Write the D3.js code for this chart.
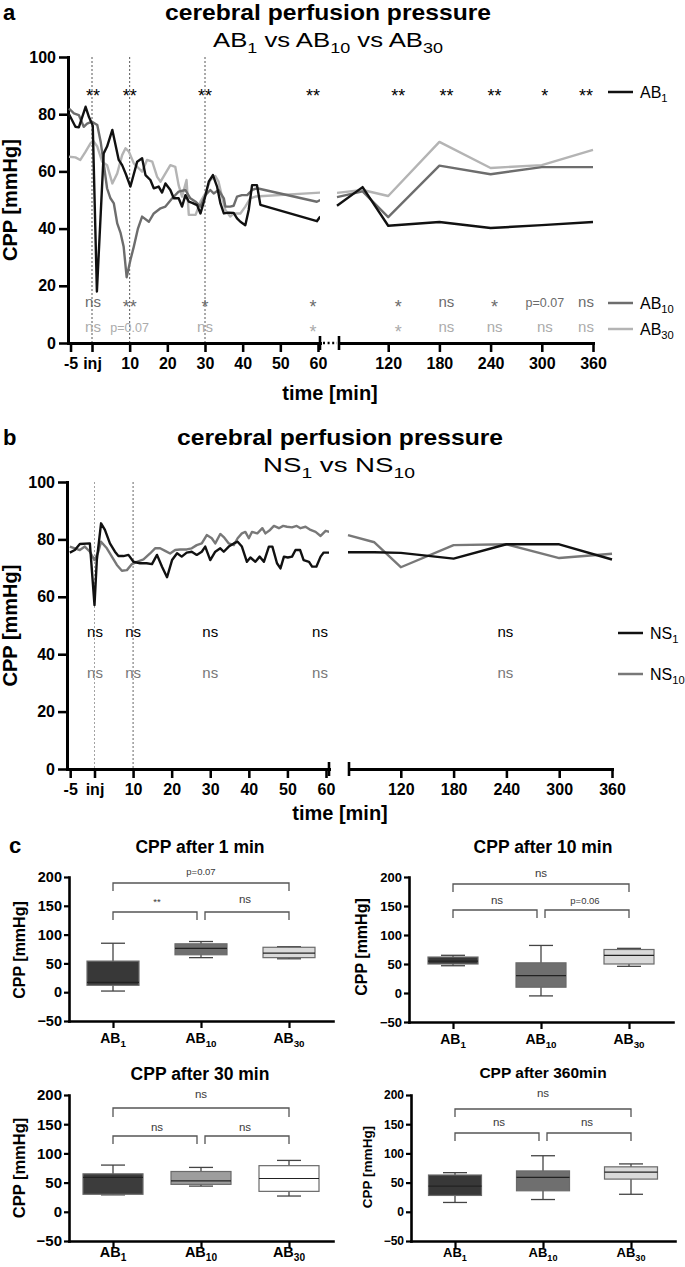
<!DOCTYPE html>
<html>
<head>
<meta charset="utf-8">
<script src="https://cdn.jsdelivr.net/npm/d3@7/dist/d3.min.js"></script>
<style>
html,body{margin:0;padding:0;background:#fff;}
svg{display:block;}
</style>
</head>
<body>
<svg id="fig" width="685" height="1267" viewBox="0 0 685 1267"></svg>
<script>
// ================= DATA =================
// Panel a: CPP [mmHg] over time [min] — left segment (-5..60 min), [time, value]
const ab1Left = [[-6.1,80],[-4.4,75.6],[-3.5,75.4],[-1.7,82.6],[-0.8,79],[0.2,76],[1.3,18],[3.1,66.3],[4,68.7],[5.4,74.5],[7.1,64],[8,62.2],[9,59],[10.2,54.7],[12,63.4],[13.3,64.6],[14.2,58.7],[15.5,57],[16.4,54.1],[17.7,54.7],[18.6,52.6],[19.5,55.8],[20.8,53.5],[21.7,50.6],[23,50.6],[23.9,47.7],[24.8,51.7],[25.7,49.4],[26.6,49],[27.9,48.2],[28.8,45.3],[29.7,49.4],[31,56.4],[32.1,58.7],[33.2,54.7],[34.1,48.8],[35,45.3],[36.3,45.6],[37.6,45.5],[38.5,43.6],[39.4,42.4],[40.7,41.2],[41.6,46.5],[42.5,55.2],[43.8,55.2],[44.7,48.3],[59.7,42.6],[60.6,44.2]];
const ab10Left = [[-6.1,82],[-4.8,80.3],[-3.5,79.7],[-2.2,75.6],[-1.3,76.7],[0,77.4],[1.4,76.2],[2.3,70.4],[3.1,62.8],[4,54.1],[4.9,50.6],[5.8,48.8],[6.7,41.8],[7.6,38.4],[8.4,33.7],[9.2,23],[10.2,29],[11.1,33.7],[12.2,40],[13.3,44.2],[15.1,42.4],[16.4,45.3],[18.2,47.1],[19.5,47.7],[21.3,50.6],[23,52.9],[24.8,53.5],[26.1,50.6],[27.5,49.4],[28.8,47.7],[30.1,51.7],[31.4,53.5],[32.3,52.3],[33.6,53.5],[35,50.6],[35.4,47.7],[36.7,47.7],[37.6,48],[38.5,51.2],[39.8,51.7],[41.2,51.7],[42.5,53.5],[43.8,54.1],[59.7,49.4],[60.6,50]];
const ab30Left = [[-6.1,65.1],[-4.4,64.9],[-3.1,64],[-1.7,66.9],[-0.4,69.8],[0.3,70.7],[1.4,68.7],[2.7,63.4],[4,62.2],[5.4,55.8],[6.7,59.3],[8,65.7],[8.9,68.1],[9.8,66.9],[11.1,62.8],[12.4,61.1],[13.3,59.9],[14.6,64],[16,63.4],[17.3,58.1],[18.2,56.4],[19.5,59.3],[20.8,62.2],[22.1,61.6],[23,55.2],[23.9,51.2],[25.1,57],[25.7,44.8],[27.5,44.8],[28.8,49.4],[30.1,52.3],[31.4,57],[32.7,58.4],[33.6,56.4],[34.5,51.2],[35.4,46.5],[36.7,44.2],[37.6,45.3],[39.4,45.3],[40.7,47.7],[42,50.6],[43.4,51.2],[60.6,52.6]];
// Panel a right segment (60..360 min)
const abRightTime = [60, 90, 120, 180, 240, 300, 360];
const ab1Right  = [48, 54.5, 41, 42.3, 40.2, 41.2, 42.3];
const ab10Right = [51, 53, 44, 62, 59, 61.5, 61.5];
const ab30Right = [52.5, 53.5, 51.4, 70.3, 61.2, 62.2, 67.5];

// Panel a ticks
const aYTicks = [0, 20, 40, 60, 80, 100];
const aXTickPos = [-5.7, 0, 10, 20, 30, 40, 50, 60];
const aXTickLab = ["-5", "inj", "10", "20", "30", "40", "50", "60"];
const aXTickRight = [120, 180, 240, 300, 360];
const aMarkTimes = [0, 10, 30];
// Panel a significance (columns at times)
const aSigTimes = [0, 10, 30, 60, 120, 180, 240, 300, 360];
const aSigAB1  = ["**","**","**","**","**","**","**","*","**"];
const aSigAB10 = ["ns","**","*","*","*","ns","*","p=0.07","ns"];
const aSigAB30 = ["ns","p=0.07","ns","*","*","ns","ns","ns","ns"];
const aLegend = ["AB_{1}", "AB_{10}", "AB_{30}"];

// Panel b
const ns1Left = [[-6.4,75.4],[-5.1,76.3],[-3.8,78.4],[-1.2,78.6],[0,57.1],[0.6,72.8],[1.7,85.6],[2.7,83.3],[4,78.6],[5.3,75.7],[6.2,74.2],[7.5,74.2],[8.8,74.6],[10.1,72.2],[11.8,71.7],[13.5,71.7],[14.9,71.4],[16.2,74.6],[17.5,70.5],[18.8,66.8],[20.1,72.8],[21.4,75.2],[22.6,74],[23.9,75.4],[25.2,75.7],[26.5,74.6],[27.8,75.7],[28.7,77.5],[30,72.8],[31.3,75.7],[32.6,76.9],[33.5,75.7],[34.8,77.5],[36.1,78.6],[37.1,79.2],[38.2,77.5],[39.5,72.2],[40.4,73.7],[41.7,72.2],[42.8,74],[43.9,72.2],[45.2,77.5],[46.1,77.5],[47.3,71.7],[48.2,69.9],[49.1,74],[50.1,73.7],[51.2,74],[52.1,76.3],[53.3,76.3],[54.2,72.8],[55.6,72.2],[56.4,70.5],[57.5,70.5],[58.6,74],[59.4,75.4],[61.2,75.4]];
const ns10Left = [[-6.4,77.5],[-3.8,76.3],[-2.5,77.5],[-1.2,75.7],[0,72.8],[1,75.7],[1.7,79.2],[3.2,76.9],[4.5,74],[5.8,71.1],[7.1,69.1],[8.4,69.3],[9.7,71.4],[11,72.2],[12.7,73],[14.4,75.1],[15.7,76.9],[17,76.9],[18.3,76],[19.6,75.1],[20.9,76.3],[22.2,76.5],[23.9,76.5],[25.2,76.9],[26.5,78],[27.8,78.6],[29.1,81.5],[30.4,80.4],[31.3,78.6],[32.6,81.9],[33.5,80.8],[34.8,78.6],[36.1,78],[37.1,80.4],[38.2,82.1],[39.1,82.6],[40,80.4],[40.8,82.6],[42.2,82.1],[43.5,83.9],[44.3,82.1],[45.5,83.3],[46.5,84.7],[47.8,83.9],[48.9,84.7],[49.9,84.4],[51.2,84.2],[52.4,84.7],[53.4,83.9],[54.7,84.4],[56,83.3],[57.3,82.6],[58.6,81.2],[59.9,83],[61.2,82.5]];
const nsRightTime = [60, 90, 120, 180, 240, 300, 360];
const ns1Right  = [75.5, 75.5, 75.3, 73.3, 78.3, 78.3, 73];
const ns10Right = [81.5, 79, 70.3, 78, 78.3, 73.5, 75];
const bXTickPos = [-6.3, 0, 10, 20, 30, 40, 50, 60];
const bXTickLab = ["-5", "inj", "10", "20", "30", "40", "50", "60"];
const bXTickRight = [120, 180, 240, 300, 360];
const bMarkTimes = [0, 10];
const bSigTimes = [0, 10, 30, 60, 240];
const bSigNS1  = ["ns","ns","ns","ns","ns"];
const bSigNS10 = ["ns","ns","ns","ns","ns"];
const bLegend = ["NS_{1}", "NS_{10}"];

// Panel c: box plots [min, q1, median, q3, max] per group
const boxCats = ["AB_{1}", "AB_{10}", "AB_{30}"];
const cYTicks = [-50, 0, 50, 100, 150, 200];
const box1min   = [[2, 12, 17, 54, 85], [60, 65, 76, 84, 88], [58, 60, 68, 78, 79]];
const box10min  = [[47, 50, 55, 62, 65], [-5, 10, 30, 52, 82], [46, 50, 65, 75, 77]];
const box30min  = [[29, 30, 59, 65, 80], [44, 47, 53, 69, 76], [27, 35, 57, 79, 88]];
const box360min = [[16, 28, 44, 63, 67], [21, 36, 59, 70, 96], [30, 56, 68, 77, 82]];
// significance: [AB1 vs AB30, AB1 vs AB10, AB10 vs AB30]
const sig1min   = ["p=0.07", "**", "ns"];
const sig10min  = ["ns", "ns", "p=0.06"];
const sig30min  = ["ns", "ns", "ns"];
const sig360min = ["ns", "ns", "ns"];
const cTitles = ["CPP after 1 min", "CPP after 10 min", "CPP after 30 min", "CPP after 360min"];

// ================= DRAWING =================
const FONT = '"Liberation Sans", Arial, Helvetica, sans-serif';
const svg = d3.select("#fig").attr("font-family", FONT);
svg.append("rect").attr("width", 685).attr("height", 1267).attr("fill", "#fff");

function rich(sel, str, fs) {
  const parts = str.split(/(_\{[^}]*\})/).filter(s => s.length);
  let shifted = false;
  parts.forEach(p => {
    const m = p.match(/^_\{(.*)\}$/);
    if (m) {
      sel.append("tspan").attr("font-size", fs * 0.7).attr("dy", shifted ? 0 : fs * 0.3).text(m[1]);
      shifted = true;
    } else {
      sel.append("tspan").attr("font-size", fs).attr("dy", shifted ? -fs * 0.3 : 0).text(p);
      shifted = false;
    }
  });
  return sel;
}
function text(x, y, s, o = {}) {
  const t = svg.append("text").attr("x", x).attr("y", y)
    .attr("font-size", o.fs || 14).attr("font-weight", o.bold ? "bold" : "normal")
    .attr("text-anchor", o.anchor || "start").attr("fill", o.color || "#000");
  if (o.len) t.attr("textLength", o.len).attr("lengthAdjust", "spacingAndGlyphs");
  if (o.rot) t.attr("transform", `rotate(-90 ${x} ${y})`);
  if (s.includes("_{")) rich(t, s, o.fs || 14); else t.text(s);
  return t;
}
function styleAxis(g, fs, w) {
  g.attr("font-family", FONT).attr("font-size", fs).attr("font-weight", "bold");
  g.select(".domain").attr("stroke", "#000").attr("stroke-width", w).attr("stroke-linecap", "square");
  g.selectAll(".tick line").attr("stroke", "#000").attr("stroke-width", w * 0.85);
  g.selectAll(".tick text").attr("fill", "#000");
}
function sigLabel(x, cy, s, color, fsA, fsN, fsP) {
  let fs, base;
  if (/^\*+$/.test(s)) { fs = fsA; base = cy + 0.56 * fs; }
  else if (s.startsWith("p")) { fs = fsP; base = cy + 0.32 * fs; }
  else { fs = fsN; base = cy + 0.27 * fs; }
  svg.append("text").attr("x", x).attr("y", base).attr("text-anchor", "middle")
    .attr("font-size", fs).attr("fill", color).text(s);
}

// ---------- Time-course panel builder ----------
function timePanel(P) {
  const y = d3.scaleLinear([0, 100], [P.y0, P.y100]);
  const xL = d3.scaleLinear([0, 60], P.xLrange);
  const xR = d3.scaleLinear([60, 360], P.xRrange);

  const clipId = "clip" + P.id;
  svg.append("clipPath").attr("id", clipId).append("rect")
    .attr("x", P.axisX).attr("y", P.y100 - 10).attr("width", P.leftEnd - P.axisX).attr("height", P.y0 - P.y100 + 10);

  P.marks.forEach((t, i) => {
    svg.append("line").attr("x1", xL(t)).attr("x2", xL(t)).attr("y1", P.y100).attr("y2", P.y0)
      .attr("stroke", P.markColors[i]).attr("stroke-width", 0.9).attr("stroke-dasharray", "2,2");
  });

  const gy = svg.append("g").attr("transform", `translate(${P.axisX},0)`)
    .call(d3.axisLeft(y).tickValues(aYTicks).tickSize(9).tickPadding(3).tickSizeOuter(0));
  styleAxis(gy, 16, 3);

  const xLa = d3.scaleLinear([xL.invert(P.axisX), xL.invert(P.leftEnd)], [P.axisX, P.leftEnd]);
  const gx = svg.append("g").attr("transform", `translate(0,${P.y0})`)
    .call(d3.axisBottom(xLa).tickValues(P.tickPos).tickFormat((d, i) => P.tickLab[i]).tickSize(9).tickPadding(P.tickPad).tickSizeOuter(0));
  styleAxis(gx, 16, 3);
  const xRa = d3.scaleLinear([xR.invert(P.rightStart), 360], [P.rightStart, xR(360)]);
  const gx2 = svg.append("g").attr("transform", `translate(0,${P.y0})`)
    .call(d3.axisBottom(xRa).tickValues(P.tickRight).tickFormat(d3.format("d")).tickSize(9).tickPadding(P.tickPad).tickSizeOuter(0));
  styleAxis(gx2, 16, 3);
  [P.leftEnd, P.rightStart].forEach(bx => {
    svg.append("line").attr("x1", bx).attr("x2", bx).attr("y1", P.y0 - 7).attr("y2", P.y0 + 7)
      .attr("stroke", "#000").attr("stroke-width", 2.6);
  });
  if (P.dotted) {
    svg.append("line").attr("x1", P.leftEnd + 3).attr("x2", P.rightStart - 2).attr("y1", P.y0).attr("y2", P.y0)
      .attr("stroke", "#000").attr("stroke-width", 2.5).attr("stroke-dasharray", "2,2.6");
  }

  const lineL = d3.line().x(d => xL(d[0])).y(d => y(d[1]));
  const lineR = d3.line().x((d, i) => xR(P.rightTime[i])).y(d => y(d));
  P.series.forEach(s => {
    svg.append("path").attr("d", lineL(s.left)).attr("clip-path", `url(#${clipId})`)
      .attr("fill", "none").attr("stroke", s.color).attr("stroke-width", 2.4).attr("stroke-linejoin", "round");
    svg.append("path").attr("d", lineR(s.right))
      .attr("fill", "none").attr("stroke", s.color).attr("stroke-width", 2.4).attr("stroke-linejoin", "round");
  });

  P.sigRows.forEach((row, r) => {
    row.forEach((s, i) => {
      const t = P.sigTimes[i];
      const x = (t <= 60 && i < P.nLeftSig ? xL(t) : xR(t)) + P.sigDx[i];
      sigLabel(x, P.sigY[r], s, P.sigColors[r], 18, 15, 12.5);
    });
  });

  P.legend.forEach((lab, i) => {
    const ly = P.legendY[i];
    svg.append("line").attr("x1", P.legX).attr("x2", P.legX + 25).attr("y1", ly).attr("y2", ly)
      .attr("stroke", P.legColors[i]).attr("stroke-width", 2.5);
    text(P.legX + 32, ly + 5.5, lab, { fs: 16 });
  });

  text(17, (P.y0 + P.y100) / 2, "CPP [mmHg]", { fs: 20, bold: true, anchor: "middle", rot: true });
  text(P.timeX, P.timeY, "time [min]", { fs: 20, bold: true, anchor: "middle" });
}

// ---------- Panel a ----------
text(3, 20, "a", { fs: 22, bold: true });
text(328, 20, "cerebral perfusion pressure", { fs: 22, bold: true, anchor: "middle", len: 326 });
text(328, 47, "AB_{1} vs AB_{10} vs AB_{30}", { fs: 21, anchor: "middle", len: 230 });
timePanel({
  id: "a", y0: 343, y100: 57, xLrange: [92, 318], xRrange: [337, 593],
  axisX: 68, leftEnd: 320, rightStart: 339, dotted: true, tickPad: 5.5,
  tickPos: aXTickPos, tickLab: aXTickLab, tickRight: aXTickRight,
  marks: aMarkTimes, markColors: ["#444", "#444", "#444"],
  rightTime: abRightTime,
  series: [
    { left: ab30Left, right: ab30Right, color: "#b4b4b4" },
    { left: ab10Left, right: ab10Right, color: "#6d6d6d" },
    { left: ab1Left, right: ab1Right, color: "#111" }
  ],
  sigTimes: aSigTimes, nLeftSig: 4, sigDx: [1, 0, 0, -5, 10, 7, 4, 3, -7],
  sigRows: [aSigAB1, aSigAB10, aSigAB30], sigY: [92, 303, 328],
  sigColors: ["#000", "#6b6b6b", "#ababab"],
  legend: aLegend, legendY: [92, 303, 329], legX: 608, legColors: ["#111", "#6d6d6d", "#b4b4b4"],
  timeX: 330, timeY: 400
});

// ---------- Panel b ----------
text(3, 445, "b", { fs: 22, bold: true });
text(340, 445, "cerebral perfusion pressure", { fs: 22, bold: true, anchor: "middle", len: 326 });
text(339, 472, "NS_{1} vs NS_{10}", { fs: 21, anchor: "middle", len: 152 });
timePanel({
  id: "b", y0: 769, y100: 482, xLrange: [94.5, 326], xRrange: [348, 612],
  axisX: 67, leftEnd: 329, rightStart: 349, dotted: false, tickPad: 5.5,
  tickPos: bXTickPos, tickLab: bXTickLab, tickRight: bXTickRight,
  marks: bMarkTimes, markColors: ["#999", "#555"],
  rightTime: nsRightTime,
  series: [
    { left: ns10Left, right: ns10Right, color: "#787878" },
    { left: ns1Left, right: ns1Right, color: "#111" }
  ],
  sigTimes: bSigTimes, nLeftSig: 4, sigDx: [0.5, 0, 0, -6, -1],
  sigRows: [bSigNS1, bSigNS10], sigY: [633, 674],
  sigColors: ["#000", "#777"],
  legend: bLegend, legendY: [633, 674], legX: 618, legColors: ["#111", "#787878"],
  timeX: 340, timeY: 820
});

// ---------- Panel c ----------
text(9, 853, "c", { fs: 22, bold: true });
const cData = [box1min, box10min, box30min, box360min];
const cSig = [sig1min, sig10min, sig30min, sig360min];
const cLayout = [
  { x0: 69, x1: 333, yT: 877, yB: 1021, tX: 200, tY: 853, tFs: 17.5, tickFs: 14.5, labFs: 16, labX: 25, labY: 950, catFs: 14, catY: 1043, bw: 52,
    topBar: 883, topLeg: 891, lowBar: 912, lowLeg: 920, topC: 872, lowC: 899.5, fills: ["#383838", "#6f6f6f", "#dadada"] },
  { x0: 409, x1: 673, yT: 877, yB: 1022, tX: 543, tY: 853, tFs: 17.5, tickFs: 13, labFs: 16, labX: 367, labY: 947, catFs: 14, catY: 1044, bw: 50,
    topBar: 884, topLeg: 892, lowBar: 910, lowLeg: 918, topC: 874, lowC: 901, fills: ["#383838", "#6f6f6f", "#dadada"] },
  { x0: 69, x1: 333, yT: 1095, yB: 1241, tX: 200, tY: 1080, tFs: 17.5, tickFs: 15, labFs: 16.5, labX: 25, labY: 1168, catFs: 14.5, catY: 1257, bw: 60,
    topBar: 1108, topLeg: 1117, lowBar: 1136, lowLeg: 1144, topC: 1094.5, lowC: 1128, fills: ["#3c3c3c", "#9d9d9d", "#ffffff"] },
  { x0: 411, x1: 675, yT: 1095, yB: 1241, tX: 543, tY: 1078, tFs: 15.5, tickFs: 12, labFs: 13.5, labX: 372, labY: 1167, catFs: 13, catY: 1257, bw: 53,
    topBar: 1109, topLeg: 1117, lowBar: 1133, lowLeg: 1141, topC: 1094, lowC: 1123, fills: ["#383838", "#6f6f6f", "#dadada"] }
];

cLayout.forEach((L, k) => {
  const y = d3.scaleLinear([-50, 200], [L.yB, L.yT]);
  const x = d3.scalePoint(boxCats, [L.x0, L.x1]).padding(0.5);
  text(L.tX, L.tY, cTitles[k], { fs: L.tFs, bold: true, anchor: "middle" });
  const gy = svg.append("g").attr("transform", `translate(${L.x0},0)`)
    .call(d3.axisLeft(y).tickValues(cYTicks).tickSize(5).tickPadding(2).tickSizeOuter(0));
  styleAxis(gy, L.tickFs, 2.6);
  const gx = svg.append("g").attr("transform", `translate(0,${L.yB})`)
    .call(d3.axisBottom(x).tickSize(7).tickFormat("").tickSizeOuter(0));
  styleAxis(gx, L.tickFs, 2.6);
  boxCats.forEach(c => text(x(c), L.catY, c, { fs: L.catFs, bold: true, anchor: "middle" }));
  text(L.labX, L.labY, "CPP [mmHg]", { fs: L.labFs, bold: true, anchor: "middle", rot: true });

  cData[k].forEach((b, i) => {
    const cx = x(boxCats[i]);
    const [mn, q1, md, q3, mx] = b;
    const g = svg.append("g");
    g.append("line").attr("x1", cx).attr("x2", cx).attr("y1", y(mn)).attr("y2", y(mx))
      .attr("stroke", "#444").attr("stroke-width", 1.3);
    [mn, mx].forEach(v => g.append("line").attr("x1", cx - 12).attr("x2", cx + 12).attr("y1", y(v)).attr("y2", y(v))
      .attr("stroke", "#444").attr("stroke-width", 1.3));
    g.append("rect").attr("x", cx - L.bw / 2).attr("width", L.bw).attr("y", y(q3)).attr("height", y(q1) - y(q3))
      .attr("fill", L.fills[i]).attr("stroke", "#6a6a6a").attr("stroke-width", 1.2);
    g.append("line").attr("x1", cx - L.bw / 2).attr("x2", cx + L.bw / 2).attr("y1", y(md)).attr("y2", y(md))
      .attr("stroke", "#222").attr("stroke-width", 1.2);
  });

  const p0 = x(boxCats[0]), p1 = x(boxCats[1]), p2 = x(boxCats[2]);
  const br = (xa, xb, bar, leg) => svg.append("path")
    .attr("d", `M${xa},${leg}V${bar}H${xb}V${leg}`).attr("fill", "none").attr("stroke", "#555").attr("stroke-width", 1.3);
  br(p0, p2, L.topBar, L.topLeg);
  br(p0, p1 - 4, L.lowBar, L.lowLeg);
  br(p1 + 4, p2, L.lowBar, L.lowLeg);
  const s = cSig[k];
  sigLabel((p0 + p2) / 2, L.topC, s[0], "#3a3a3a", 9.5, 11.5, 9.5);
  sigLabel((p0 + p1) / 2, L.lowC, s[1], "#3a3a3a", 9.5, 11.5, 9.5);
  sigLabel((p1 + p2) / 2, L.lowC, s[2], "#3a3a3a", 9.5, 11.5, 9.5);
});
</script>
</body>
</html>
